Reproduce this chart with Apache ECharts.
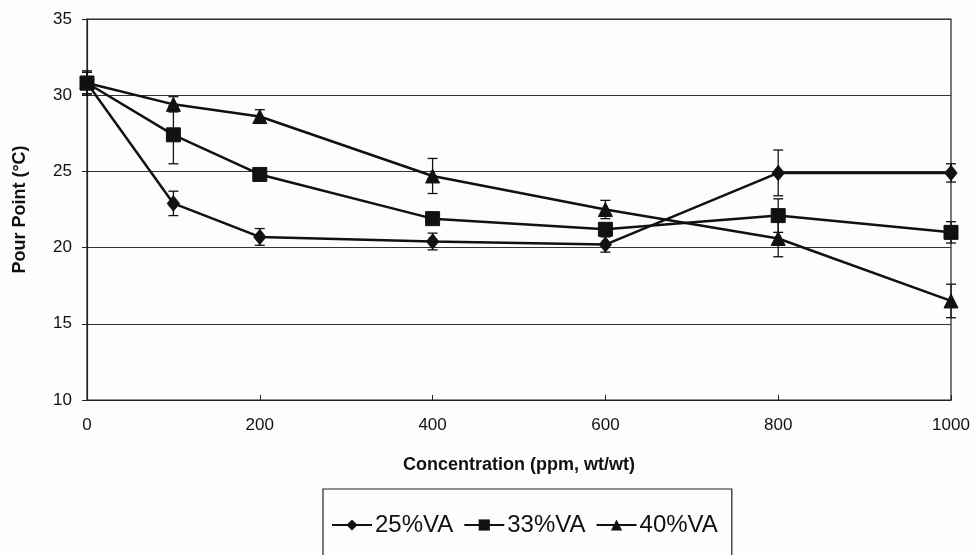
<!DOCTYPE html>
<html><head><meta charset="utf-8">
<script src="https://cdn.jsdelivr.net/npm/echarts@6/dist/echarts.min.js"></script>
<style>html,body{margin:0;padding:0;background:#fdfdfd}#c{width:977px;height:555px}</style>
</head><body><div id="c"></div>
<script>
var concentrations = [0, 100, 200, 400, 600, 800, 1000];
var seriesNames = ['25%VA', '33%VA', '40%VA'];
var va25 = [30.8, 22.9, 20.7, 20.4, 20.2, 24.9, 24.9];
var va33 = [30.8, 27.4, 24.8, 21.9, 21.2, 22.1, 21.0];
var va40 = [30.8, 29.4, 28.6, 24.7, 22.5, 20.6, 16.5];
var err25 = [0.7, 0.8, 0.55, 0.55, 0.5, 1.5, 0.6];
var err33 = [0.7, 1.9, 0.3, 0.3, 0.4, 1.1, 0.7];
var err40 = [0.8, 0.5, 0.45, 1.15, 0.6, 1.2, 1.1];
var yTicks = [10, 15, 20, 25, 30, 35];

function pts(vals){ return concentrations.map(function(x,i){ return [x, vals[i]]; }); }
function errs(vals, e){ return concentrations.map(function(x,i){ return [x, vals[i]-e[i], vals[i]+e[i]]; }); }
function errSeries(vals, e){
  return {
    type: 'custom', silent: true, z: 1,
    data: errs(vals, e),
    encode: {x: 0, y: [1, 2]},
    renderItem: function(params, api){
      var lo = api.coord([api.value(0), api.value(1)]);
      var hi = api.coord([api.value(0), api.value(2)]);
      var w = 5;
      var st = {stroke: '#111', lineWidth: 1.3};
      return {type: 'group', children: [
        {type: 'line', shape: {x1: lo[0], y1: lo[1], x2: hi[0], y2: hi[1]}, style: st},
        {type: 'line', shape: {x1: lo[0]-w, y1: lo[1], x2: lo[0]+w, y2: lo[1]}, style: st},
        {type: 'line', shape: {x1: hi[0]-w, y1: hi[1], x2: hi[0]+w, y2: hi[1]}, style: st}
      ]};
    }
  };
}
function lineSeries(name, vals, sym, size){
  return {
    name: name, type: 'line', data: pts(vals), z: 3,
    symbol: sym, symbolSize: size, showSymbol: true,
    lineStyle: {color: '#111', width: 2.5},
    itemStyle: {color: '#111', borderColor: '#111'}
  };
}
var chart = echarts.init(document.getElementById('c'));
chart.setOption({
  backgroundColor: '#fdfdfd',
  animation: false,
  textStyle: {fontFamily: 'Liberation Sans, Arial, sans-serif', color: '#111'},
  grid: {left: 87, top: 19, right: 26, bottom: 155, show: true, borderColor: '#222', borderWidth: 1.2, backgroundColor: 'transparent'},
  legend: {
    data: seriesNames,
    left: 323, top: 489,
    itemWidth: 40, itemHeight: 14, itemGap: 10,
    padding: [24, 14, 60, 8],
    borderColor: '#222', borderWidth: 1.2,
    textStyle: {fontSize: 24, color: '#111', fontFamily: 'Liberation Sans, Arial, sans-serif', padding: [0, 0, 0, -2]}
  },
  xAxis: {
    type: 'value', min: 0, max: 1000, interval: 200,
    name: 'Concentration (ppm, wt/wt)', nameLocation: 'middle', nameGap: 56,
    nameTextStyle: {fontSize: 18, fontWeight: 'bold', color: '#111'},
    axisLine: {lineStyle: {color: '#222', width: 1.2}},
    axisTick: {show: true, inside: true, length: 5, lineStyle: {color: '#222'}},
    axisLabel: {fontSize: 17, color: '#111', margin: 17, formatter: function(v){ return String(v); }},
    splitLine: {show: false}
  },
  yAxis: {
    type: 'value', min: yTicks[0], max: yTicks[yTicks.length-1], interval: 5,
    name: 'Pour Point (°C)', nameLocation: 'middle', nameGap: 58,
    nameTextStyle: {fontSize: 18, fontWeight: 'bold', color: '#111'},
    axisLine: {show: true, lineStyle: {color: '#222', width: 1.2}},
    axisTick: {show: true, length: 5, lineStyle: {color: '#222'}},
    axisLabel: {fontSize: 17, color: '#111', margin: 15},
    splitLine: {show: true, lineStyle: {color: '#333', width: 1}}
  },
  series: [
    errSeries(va25, err25), errSeries(va33, err33), errSeries(va40, err40),
    lineSeries(seriesNames[0], va25, 'diamond', [12, 15]),
    lineSeries(seriesNames[1], va33, 'rect', 14),
    lineSeries(seriesNames[2], va40, 'triangle', 14)
  ]
});
</script></body></html>
